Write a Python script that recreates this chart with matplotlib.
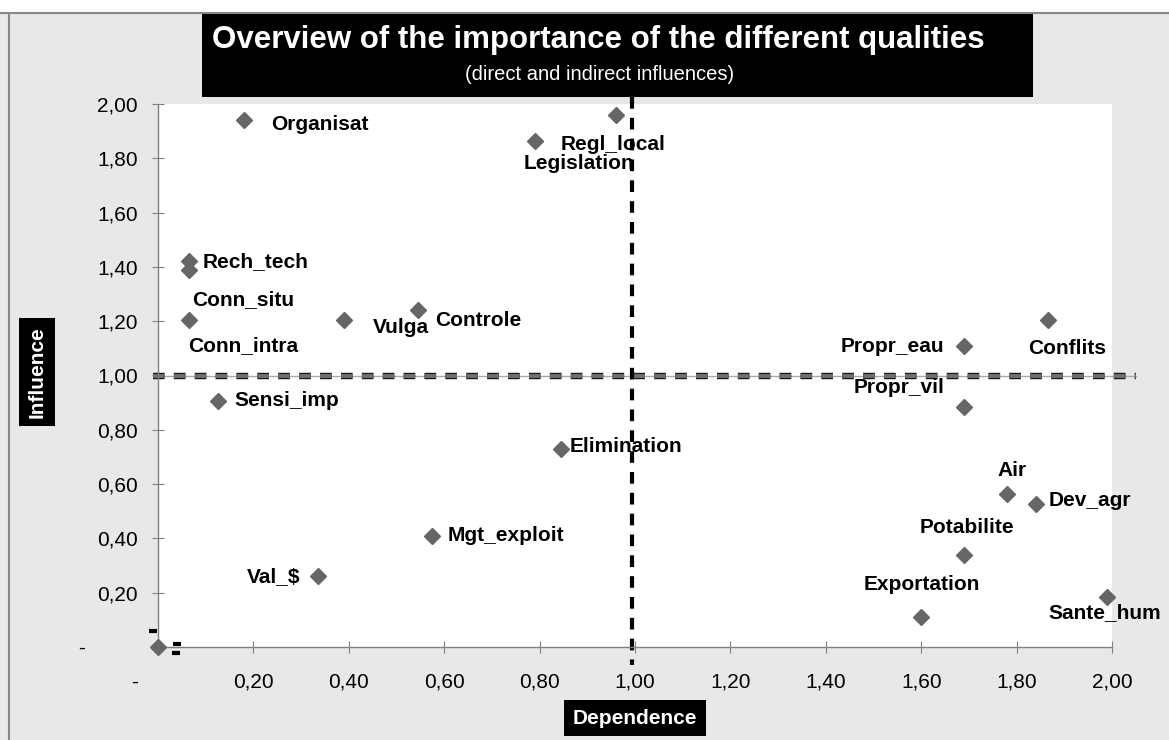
import matplotlib
matplotlib.use("Agg")
import matplotlib.pyplot as plt
import matplotlib.patheffects as pe
from matplotlib.lines import Line2D
from matplotlib.patches import Rectangle
from matplotlib.ticker import FuncFormatter
from matplotlib.transforms import offset_copy

# data (dependence, influence)
names = ["Organisat", "Regl_local", "Legislation", "Rech_tech", "Conn_situ",
         "Conn_intra", "Vulga", "Controle", "Propr_eau", "Conflits",
         "Propr_vil", "Sensi_imp", "Elimination", "Air", "Dev_agr",
         "Potabilite", "Mgt_exploit", "Val_$", "Exportation", "Sante_hum"]
dependence = [0.18, 0.96, 0.79, 0.065, 0.065, 0.065, 0.39, 0.545, 1.69, 1.865,
              1.69, 0.125, 0.845, 1.78, 1.84, 1.69, 0.575, 0.335, 1.60, 1.99]
influence = [1.94, 1.96, 1.865, 1.42, 1.39, 1.205, 1.205, 1.24, 1.11, 1.205,
             0.885, 0.905, 0.73, 0.565, 0.525, 0.34, 0.41, 0.26, 0.11, 0.185]
ticks = [0, 0.2, 0.4, 0.6, 0.8, 1.0, 1.2, 1.4, 1.6, 1.8, 2.0]

# label offsets in pixels (label centre relative to its point, y up)
label_dx = [76, -3, 44, 67, 54, 54, 57, 60, -72, 20,
            -65, 69, 65, 5, 54, 3, 74, -44, 1, -2]
label_dy = [-4, -30, -23, 0, -30, -26, -8, -10, -1, -29,
            19, 1, 2, 23, 4, 27, 0, 0, 33, -16]

plt.rcParams["font.family"] = ["Liberation Sans", "DejaVu Sans"]

W, H = 1169, 740
fig = plt.figure(figsize=(W / 100, H / 100), dpi=100, facecolor="#e8e8e8")


def fx(x):
    return x / W


def fy(y):
    return 1 - y / H


# white strip above the chart frame and the frame lines
fig.patches.append(Rectangle((0, fy(13)), 1, 13 / H, transform=fig.transFigure,
                             facecolor="white", edgecolor="none", zorder=0))
fig.lines.append(Line2D([0, 1], [fy(13), fy(13)], transform=fig.transFigure,
                        color="#888888", lw=1.5))
fig.lines.append(Line2D([fx(9), fx(9)], [fy(13), 0], transform=fig.transFigure,
                        color="#888888", lw=1.5))

# title box
fig.patches.append(Rectangle((fx(202), fy(97)), (1033 - 202) / W, (97 - 14) / H,
                             transform=fig.transFigure, facecolor="black",
                             edgecolor="none", zorder=1))
fig.text(fx(598), fy(40), "Overview of the importance of the different qualities",
         color="white", fontsize=22.5, fontweight="bold",
         ha="center", va="center", zorder=2)
fig.text(fx(600), fy(75), "(direct and indirect influences)", color="white",
         fontsize=14.5, ha="center", va="center", zorder=2)

ax = fig.add_axes([fx(158), fy(647), (1112 - 158) / W, (647 - 104) / H])
ax.set_facecolor("white")
ax.set_xlim(0, 2)
ax.set_ylim(0, 2)
for s in ["top", "right"]:
    ax.spines[s].set_visible(False)
for s in ["left", "bottom"]:
    ax.spines[s].set_color("#808080")
    ax.spines[s].set_linewidth(1)


def num(v):
    return f"{v:.2f}".replace(".", ",")


ax.set_xticks(ticks)
ax.set_yticks(ticks)
ax.xaxis.set_major_formatter(FuncFormatter(
    lambda v, p: "-" + " " * 8 if abs(v) < 1e-9 else num(v)))
ax.yaxis.set_major_formatter(FuncFormatter(
    lambda v, p: "-" + " " * 9 if abs(v) < 1e-9 else num(v)))
ax.tick_params(direction="inout", length=9, color="#808080", labelsize=15)
ax.tick_params(axis="x", pad=14)
ax.tick_params(axis="y", pad=10)

# quadrant lines
ax.plot([-0.01, 2.05], [0.998, 0.998], color="#aaaaaa", lw=1, clip_on=False, zorder=2)
ax.plot([-0.01, 2.05], [0.998, 0.998], color="#6e6e6e", lw=3.2, dashes=(2.6, 2.1),
        clip_on=False, zorder=2,
        path_effects=[pe.Stroke(linewidth=4.6, foreground="black"), pe.Normal()])
ax.plot([0.994, 0.994], [2.026, -0.066], color="black", lw=3, dashes=(2.8, 2.2),
        clip_on=False, zorder=2)

ax.plot(dependence, influence, "D", color="#666666", markersize=8, clip_on=False,
        zorder=3)
ax.plot([0], [0], "D", color="#666666", markersize=8, clip_on=False, zorder=3)

for n, x, y, dx, dy in zip(names, dependence, influence, label_dx, label_dy):
    ax.annotate(n, (x, y), xytext=(dx * 0.72, dy * 0.72), textcoords="offset points",
                ha="center", va="center", fontsize=15, fontweight="bold", zorder=4)

# small dashes around the origin point
for dx, dy in [(-5, 16), (19, 3), (18, -6)]:
    tr = offset_copy(ax.transData, fig=fig, x=dx, y=dy, units="dots")
    ax.plot([0], [0], marker="_", markersize=6, markeredgewidth=3, color="black",
            transform=tr, clip_on=False, zorder=4)

# axis titles in black boxes
fig.text(fx(37), fy(372), "Influence", rotation=90, color="white", fontsize=15,
         fontweight="bold", ha="center", va="center",
         bbox=dict(facecolor="black", edgecolor="none", pad=6))
fig.text(fx(635), fy(718), "Dependence", color="white", fontsize=15,
         fontweight="bold", ha="center", va="center",
         bbox=dict(facecolor="black", edgecolor="none", pad=6))

fig.savefig("out.png", dpi=100, facecolor=fig.get_facecolor())
